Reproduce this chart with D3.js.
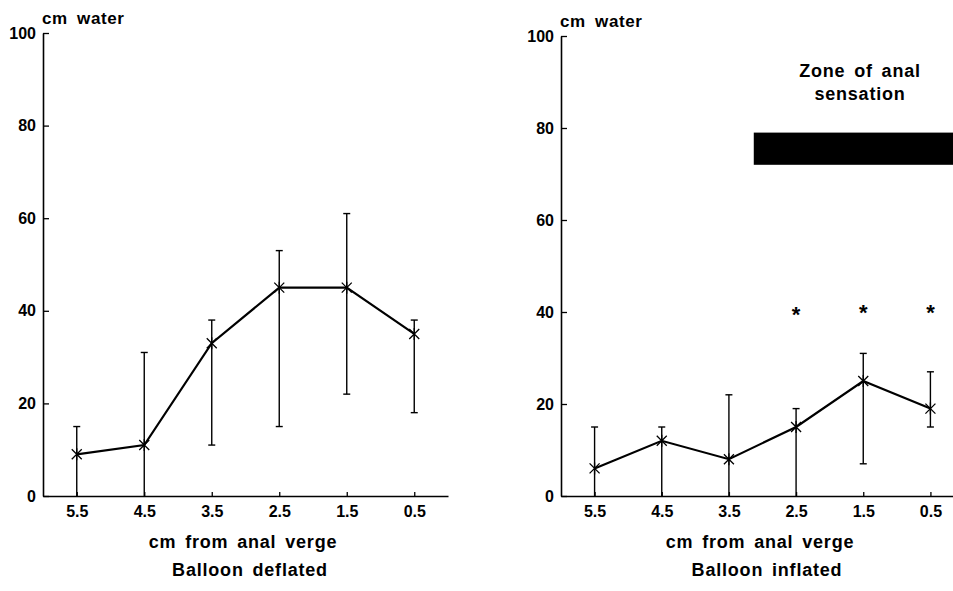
<!DOCTYPE html>
<html>
<head>
<meta charset="utf-8">
<script src="https://cdn.jsdelivr.net/npm/d3@7"></script>
<style>
  body { margin: 0; background: #fff; }
  text { font-family: "Liberation Sans", Arial, sans-serif; font-weight: bold; fill: #000; }
</style>
</head>
<body>
<div id="chart"></div>
<script>
// distance from anal verge (cm) and tick labels
const positions = [5.5, 4.5, 3.5, 2.5, 1.5, 0.5];
const tickLabels = ["5.5", "4.5", "3.5", "2.5", "1.5", "0.5"];
const yTicks = [0, 20, 40, 60, 80, 100];

// balloon deflated (cm water)
const deflatedMean = [9, 11, 33, 45, 45, 35];
const deflatedUpper = [15, 31, 38, 53, 61, 38];
const deflatedLower = [0, 0, 11, 15, 22, 18];

// balloon inflated (cm water)
const inflatedMean = [6, 12, 8, 15, 25, 19];
const inflatedUpper = [15, 15, 22, 19, 31, 27];
const inflatedLower = [0, 0, 0, 0, 7, 15];

// significance marks
const sigPositions = [2.5, 1.5, 0.5];
const sigLevels = [40, 40.5, 40.5];

// zone of anal sensation
const zoneFrom = 3.13, zoneTo = 0;
const zoneLow = 72, zoneHigh = 79;

const W = 953, H = 591;

const svg = d3.select("#chart").append("svg")
    .attr("width", W)
    .attr("height", H);

function label(g, x, y, txt, anchor) {
    return g.append("text")
        .attr("x", x)
        .attr("y", y)
        .attr("text-anchor", anchor || "middle")
        .style("font-size", "18px")
        .style("letter-spacing", "0.8px")
        .style("word-spacing", "3px")
        .text(txt);
}

function drawPanel(opts) {
    const x = d3.scaleLinear().domain([6, 0]).range([opts.x0, opts.x1]);
    const y = d3.scaleLinear().domain([0, 100]).range([opts.y0, opts.y1]);

    const g = svg.append("g");

    const xAxis = g.append("g")
        .attr("transform", `translate(0, ${opts.y0})`)
        .call(d3.axisBottom(x)
            .tickValues(positions)
            .tickFormat((d, i) => tickLabels[i])
            .tickSizeInner(-4)
            .tickSizeOuter(0)
            .tickPadding(10));

    const yAxis = g.append("g")
        .attr("transform", `translate(${opts.x0}, 0)`)
        .call(d3.axisLeft(y)
            .tickValues(yTicks)
            .tickSizeInner(-6)
            .tickSizeOuter(0)
            .tickPadding(7));

    [xAxis, yAxis].forEach(a => {
        a.select(".domain").attr("stroke", "#000").attr("stroke-width", 1.6);
        a.selectAll(".tick line").attr("stroke", "#000").attr("stroke-width", 1.3);
        a.selectAll(".tick text")
            .style("font-size", "16px")
            .style("font-family", "'Liberation Sans', Arial, sans-serif")
            .style("font-weight", "bold");
    });

    g.append("text")
        .attr("x", opts.x0 - 1)
        .attr("y", opts.y1 - 9)
        .style("font-size", "17px")
        .style("letter-spacing", "0.6px")
        .style("word-spacing", "4px")
        .text("cm water");

    label(g, opts.labelX, 548, "cm from anal verge");
    label(g, opts.labelX + 7, 576, opts.title);

    const rows = positions.map((p, i) => ({
        p: p, m: opts.mean[i], hi: opts.upper[i], lo: opts.lower[i]
    }));

    // error bars
    const eb = g.append("g").attr("stroke", "#000").attr("stroke-width", 1.4);
    eb.selectAll("line.bar")
        .data(rows)
        .join("line")
        .attr("class", "bar")
        .attr("x1", d => x(d.p)).attr("x2", d => x(d.p))
        .attr("y1", d => y(d.hi)).attr("y2", d => y(d.lo));
    eb.selectAll("line.capTop")
        .data(rows)
        .join("line")
        .attr("class", "capTop")
        .attr("x1", d => x(d.p) - 3.5).attr("x2", d => x(d.p) + 3.5)
        .attr("y1", d => y(d.hi)).attr("y2", d => y(d.hi));
    eb.selectAll("line.capBot")
        .data(rows.filter(d => d.lo > 0))
        .join("line")
        .attr("class", "capBot")
        .attr("x1", d => x(d.p) - 3.5).attr("x2", d => x(d.p) + 3.5)
        .attr("y1", d => y(d.lo)).attr("y2", d => y(d.lo));

    // mean line
    g.append("path")
        .datum(rows)
        .attr("fill", "none")
        .attr("stroke", "#000")
        .attr("stroke-width", 2.2)
        .attr("d", d3.line().x(d => x(d.p)).y(d => y(d.m)));

    // asterisk markers
    const s = 5;
    g.selectAll("path.marker")
        .data(rows)
        .join("path")
        .attr("class", "marker")
        .attr("fill", "none")
        .attr("stroke", "#000")
        .attr("stroke-width", 1.3)
        .attr("d", d => {
            const cx = x(d.p), cy = y(d.m);
            return `M${cx - s},${cy - s}L${cx + s},${cy + s}M${cx - s},${cy + s}L${cx + s},${cy - s}M${cx},${cy - s - 1}L${cx},${cy + s + 1}`;
        });

    return {x, y, g};
}

const left = drawPanel({
    x0: 43, x1: 448, y0: 496, y1: 33, labelX: 243,
    mean: deflatedMean, upper: deflatedUpper, lower: deflatedLower,
    title: "Balloon deflated"
});

const right = drawPanel({
    x0: 561, x1: 964, y0: 496, y1: 36, labelX: 760,
    mean: inflatedMean, upper: inflatedUpper, lower: inflatedLower,
    title: "Balloon inflated"
});

// zone of anal sensation
right.g.append("rect")
    .attr("x", right.x(zoneFrom))
    .attr("y", right.y(zoneHigh))
    .attr("width", right.x(zoneTo) - right.x(zoneFrom))
    .attr("height", right.y(zoneLow) - right.y(zoneHigh))
    .attr("fill", "#000");

label(right.g, 860, 77, "Zone of anal");
label(right.g, 860, 100, "sensation");

// significance asterisks
right.g.selectAll("text.sig")
    .data(sigPositions.map((p, i) => ({p, v: sigLevels[i]})))
    .join("text")
    .attr("class", "sig")
    .attr("x", d => right.x(d.p))
    .attr("y", d => right.y(d.v) + 10)
    .attr("text-anchor", "middle")
    .style("font-size", "22px")
    .text("*");
</script>
</body>
</html>
